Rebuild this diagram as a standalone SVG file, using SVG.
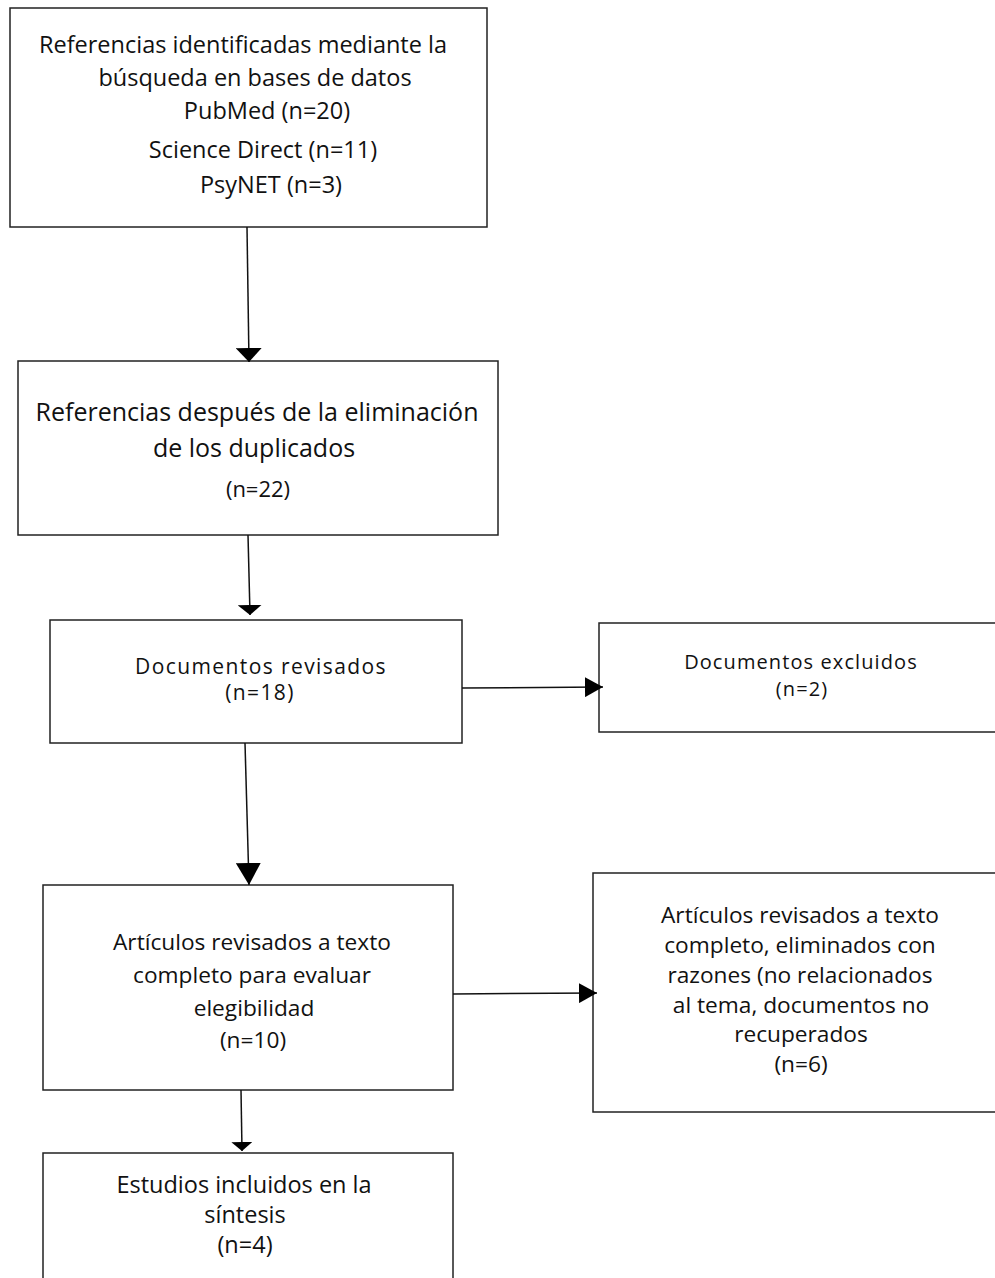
<svg xmlns="http://www.w3.org/2000/svg" width="995" height="1278" viewBox="0 0 995 1278">
<style>
.box{fill:#fff;stroke:#222;stroke-width:1.5}
.t{font-family:"Open Sans","Noto Sans",sans-serif;fill:#111;text-anchor:middle}
.c{stroke:#111;stroke-width:1.5;fill:none}
</style>
<defs>
<marker id="m1" markerWidth="14" markerHeight="26" refX="14" refY="13" orient="auto" markerUnits="userSpaceOnUse"><path d="M0,0 L14,13 L0,26 Z" fill="#000"/></marker>
<marker id="m2" markerWidth="10" markerHeight="24" refX="10" refY="12" orient="auto" markerUnits="userSpaceOnUse"><path d="M0,0 L10,12 L0,24 Z" fill="#000"/></marker>
<marker id="mh" markerWidth="18" markerHeight="20" refX="18" refY="10" orient="auto" markerUnits="userSpaceOnUse"><path d="M0,0 L18,10 L0,20 Z" fill="#000"/></marker>
<marker id="m3" markerWidth="22" markerHeight="25" refX="22" refY="12.5" orient="auto" markerUnits="userSpaceOnUse"><path d="M0,0 L22,12.5 L0,25 Z" fill="#000"/></marker>
<marker id="m4" markerWidth="9" markerHeight="21" refX="9" refY="10.5" orient="auto" markerUnits="userSpaceOnUse"><path d="M0,0 L9,10.5 L0,21 Z" fill="#000"/></marker>
</defs>
<rect width="995" height="1278" fill="#fff"/>
<g id="n1">
<rect class="box" x="10" y="8" width="477" height="219"/>
<text class="t" font-size="23.5"><tspan x="243" y="53">Referencias identificadas mediante la</tspan><tspan x="255" y="86">búsqueda en bases de datos</tspan><tspan x="267" y="119">PubMed (n=20)</tspan><tspan x="263" y="158">Science Direct (n=11)</tspan><tspan x="271" y="193">PsyNET (n=3)</tspan></text>
</g>
<g id="n2">
<rect class="box" x="18" y="361" width="480" height="174"/>
<text class="t" font-size="25"><tspan x="257" y="421">Referencias después de la eliminación</tspan><tspan x="254" y="457">de los duplicados</tspan></text>
<text class="t" font-size="22" x="258" y="497">(n=22)</text>
</g>
<g id="n3">
<rect class="box" x="50" y="620" width="412" height="123"/>
<text class="t" font-size="21" letter-spacing="1.4"><tspan x="261" y="674">Documentos revisados</tspan><tspan x="260" y="700">(n=18)</tspan></text>
</g>
<g id="n4">
<rect class="box" x="599" y="623" width="400" height="109"/>
<text class="t" font-size="20" letter-spacing="1.1"><tspan x="801" y="669">Documentos excluidos</tspan><tspan x="802" y="696">(n=2)</tspan></text>
</g>
<g id="n5">
<rect class="box" x="43" y="885" width="410" height="205"/>
<text class="t" font-size="22.7"><tspan x="252" y="950">Artículos revisados a texto</tspan><tspan x="252" y="983">completo para evaluar</tspan><tspan x="254" y="1016">elegibilidad</tspan><tspan x="253" y="1048">(n=10)</tspan></text>
</g>
<g id="n6">
<rect class="box" x="593" y="873" width="406" height="239"/>
<text class="t" font-size="22.7"><tspan x="800" y="923">Artículos revisados a texto</tspan><tspan x="800" y="953">completo, eliminados con</tspan><tspan x="800" y="983">razones (no relacionados</tspan><tspan x="801" y="1013">al tema, documentos no</tspan><tspan x="801" y="1042">recuperados</tspan><tspan x="801" y="1072">(n=6)</tspan></text>
</g>
<g id="n7">
<rect class="box" x="43" y="1153" width="410" height="140"/>
<text class="t" font-size="23.5"><tspan x="244" y="1193">Estudios incluidos en la</tspan><tspan x="245" y="1223">síntesis</tspan><tspan x="245" y="1253">(n=4)</tspan></text>
</g>
<g id="connectors">
<line class="c" x1="247" y1="227" x2="249" y2="362" marker-end="url(#m1)"/>
<line class="c" x1="248" y1="535" x2="250" y2="615" marker-end="url(#m2)"/>
<line class="c" x1="462" y1="688" x2="603" y2="687" marker-end="url(#mh)"/>
<line class="c" x1="245" y1="743" x2="249" y2="885" marker-end="url(#m3)"/>
<line class="c" x1="453" y1="994" x2="597" y2="993" marker-end="url(#mh)"/>
<line class="c" x1="241" y1="1090" x2="242" y2="1151" marker-end="url(#m4)"/>
</g>
</svg>
